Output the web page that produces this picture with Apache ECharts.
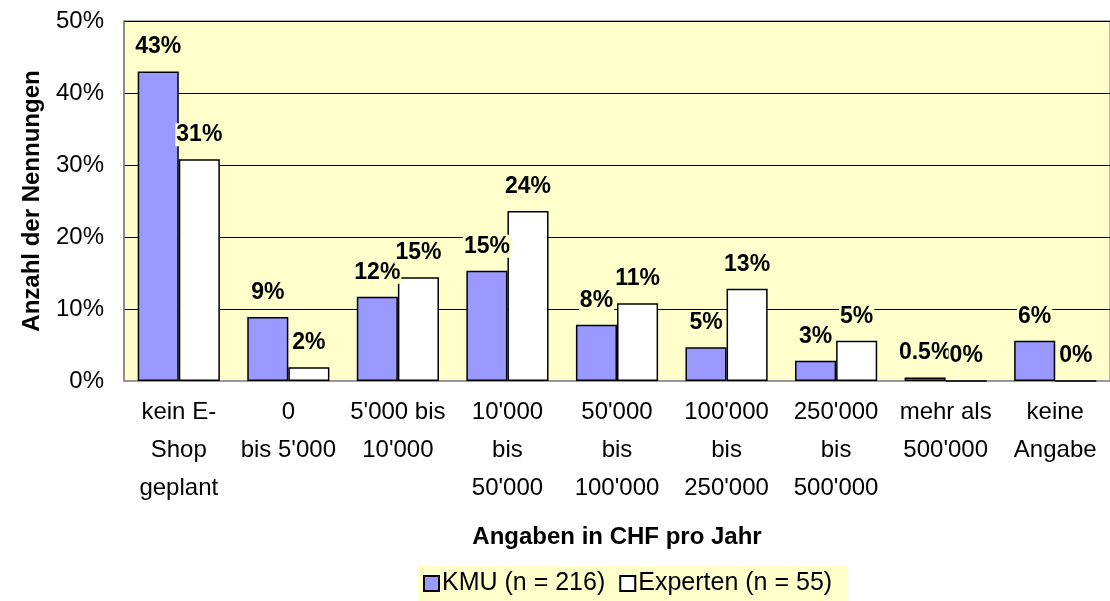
<!DOCTYPE html>
<html>
<head>
<meta charset="utf-8">
<script src="https://cdn.jsdelivr.net/npm/echarts@6/dist/echarts.min.js"></script>
<style>
  html, body { margin: 0; padding: 0; background: #fff; }
  #chart { width: 1110px; height: 601px; }
</style>
</head>
<body>
<div id="chart"></div>
<script>
// Kategorien (Angaben in CHF pro Jahr)
const categories = [
  'kein E-\nShop\ngeplant', '0\nbis 5\'000', '5\'000 bis\n10\'000',
  '10\'000\nbis\n50\'000', '50\'000\nbis\n100\'000', '100\'000\nbis\n250\'000',
  '250\'000\nbis\n500\'000', 'mehr als\n500\'000', 'keine\nAngabe'
]
// Werte in %
const kmuValues = [43, 8.9, 11.7, 15.3, 7.8, 4.7, 2.8, 0.5, 5.6]
const expertenValues = [30.8, 1.9, 14.4, 23.6, 10.8, 12.8, 5.6, 0, 0]
// Beschriftungen über den Balken
const kmuLabels = ['43%', '9%', '12%', '15%', '8%', '5%', '3%', '0.5%', '6%']
const expertenLabels = ['31%', '2%', '15%', '24%', '11%', '13%', '5%', '0%', '0%']
const yTicks = [0, 10, 20, 30, 40, 50]

const font = 'Liberation Sans, Arial, sans-serif'
const plotBg = '#ffffcc'

const chart = echarts.init(document.getElementById('chart'), null, { renderer: 'canvas' })

const barLabel = (labels) => ({
  show: true,
  position: 'top',
  distance: 13,
  formatter: (p) => labels[p.dataIndex],
  fontFamily: font,
  fontSize: 23,
  fontWeight: 'bold',
  color: '#000',
  backgroundColor: plotBg,
  padding: [0, 1]
})

chart.setOption({
  animation: false,
  textStyle: { fontFamily: font },
  grid: {
    left: 124,
    right: 0,
    top: 21,
    bottom: 220,
    show: true,
    backgroundColor: plotBg,
    borderWidth: 1.5,
    borderColor: '#999'
  },
  legend: {
    left: 418,
    bottom: 0,
    icon: 'rect',
    itemWidth: 15,
    itemHeight: 15,
    itemGap: 14,
    padding: [5, 16, 5, 5],
    backgroundColor: plotBg,
    textStyle: { fontFamily: font, fontSize: 25, color: '#000', padding: [0, 0, 0, -2] },
    data: ['KMU (n = 216)', 'Experten (n = 55)']
  },
  xAxis: {
    type: 'category',
    data: categories,
    name: 'Angaben in CHF pro Jahr',
    nameLocation: 'middle',
    nameGap: 144,
    nameTextStyle: { fontFamily: font, fontSize: 24, fontWeight: 'bold', color: '#000' },
    axisLine: { lineStyle: { color: '#999', width: 2 } },
    axisTick: { show: false },
    axisLabel: {
      fontFamily: font,
      fontSize: 24,
      color: '#000',
      lineHeight: 38,
      margin: 12,
      interval: 0
    }
  },
  yAxis: {
    type: 'value',
    min: yTicks[0],
    max: yTicks[yTicks.length - 1],
    interval: 10,
    name: 'Anzahl der Nennungen',
    nameLocation: 'middle',
    nameGap: 80,
    nameTextStyle: { fontFamily: font, fontSize: 24, fontWeight: 'bold', color: '#000' },
    axisLine: { show: true, lineStyle: { color: '#808080', width: 1.5 } },
    axisTick: { show: false },
    axisLabel: {
      formatter: '{value}%',
      fontFamily: font,
      fontSize: 24,
      color: '#000',
      margin: 20
    },
    splitLine: { lineStyle: { color: '#000', width: 1 } }
  },
  series: [
    {
      name: 'KMU (n = 216)',
      type: 'bar',
      data: kmuValues,
      barGap: '0%',
      barCategoryGap: '25%',
      itemStyle: { color: '#9999ff', borderColor: '#000', borderWidth: 1.5 },
      label: barLabel(kmuLabels)
    },
    {
      name: 'Experten (n = 55)',
      type: 'bar',
      data: expertenValues,
      barGap: '0%',
      barCategoryGap: '25%',
      itemStyle: { color: '#ffffff', borderColor: '#000', borderWidth: 1.5 },
      label: barLabel(expertenLabels)
    }
  ]
})
</script>
</body>
</html>
